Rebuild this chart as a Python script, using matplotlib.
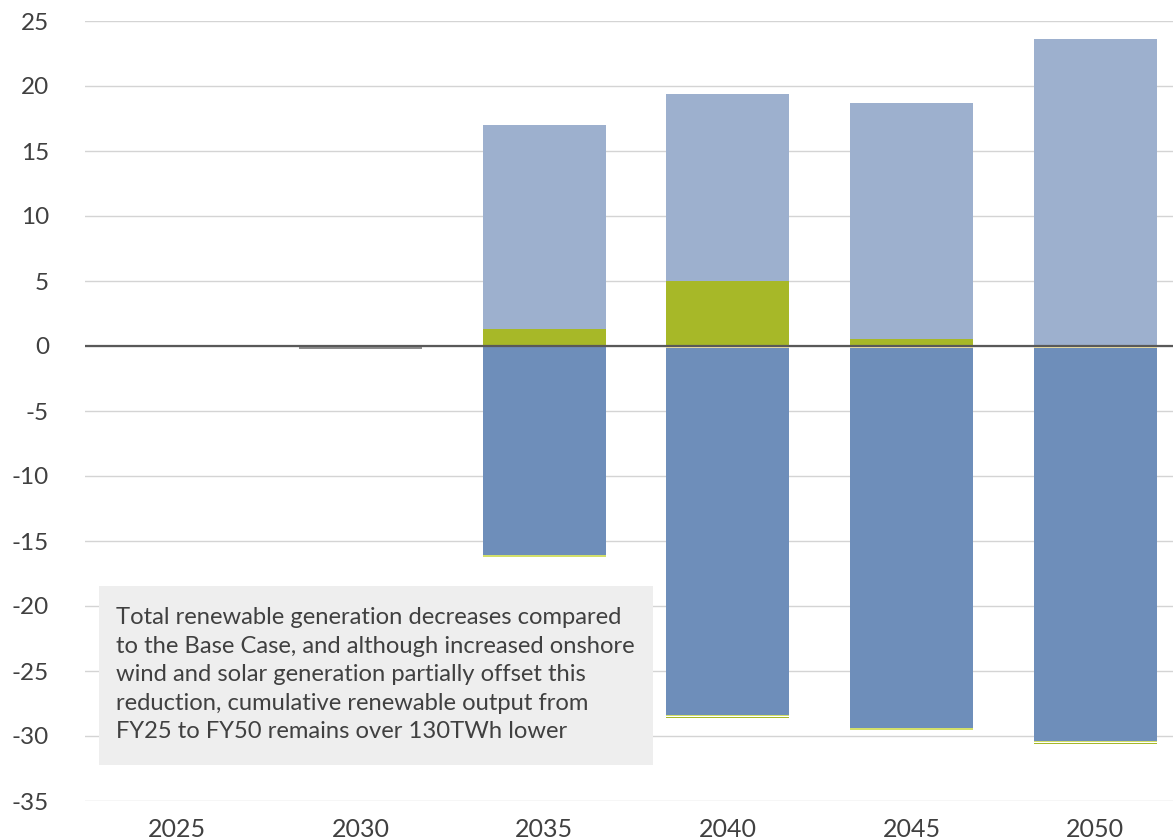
import numpy as np
import matplotlib
matplotlib.use("Agg")
import matplotlib.pyplot as plt
from matplotlib.patches import Rectangle

plt.rcParams['font.family'] = ['Lato', 'DejaVu Sans']

years = ['2025', '2030', '2035', '2040', '2045', '2050']

# Change in generation vs Base Case (TWh)
onshore_wind = [0.0, 0.0, 1.3, 5.0, 0.55, 0.05]
solar = [0.0, 0.0, 15.7, 14.4, 18.15, 23.55]
hydro = [0.0, 0.0, 0.0, -0.15, -0.15, -0.15]
offshore_wind = [0.0, 0.0, -16.1, -28.2, -29.2, -30.2]
bioenergy = [0.0, 0.0, -0.12, -0.15, -0.2, -0.15]
other_renewables = [0.0, 0.0, 0.0, -0.1, 0.0, -0.08]
other = [0.0, -0.2, 0.0, 0.0, 0.0, 0.0]

yticks = [25, 20, 15, 10, 5, 0, -5, -10, -15, -20, -25, -30, -35]

note = ("Total renewable generation decreases compared\n"
        "to the Base Case, and although increased onshore\n"
        "wind and solar generation partially offset this\n"
        "reduction, cumulative renewable output from\n"
        "FY25 to FY50 remains over 130TWh lower")

positive = [(onshore_wind, '#A7B828'), (solar, '#9DB0CE')]
negative = [(other, '#8C8C8C'), (hydro, '#F1E4A6'), (offshore_wind, '#6E8EBA'),
            (bioenergy, '#D3DF6A'), (other_renewables, '#A7B828')]

fig = plt.figure(figsize=(11.73, 8.39), dpi=100)
ax = fig.add_axes([85 / 1173, 1 - 801 / 839, (1187 - 85) / 1173, (801 - 21) / 839])

x = np.arange(len(years))
width = 0.67

pos_base = np.zeros(len(years))
for vals, col in positive:
    v = np.array(vals)
    ax.bar(x, v, width, bottom=pos_base, color=col, zorder=2, linewidth=0)
    pos_base += v

neg_base = np.zeros(len(years))
for vals, col in negative:
    v = np.array(vals)
    ax.bar(x, v, width, bottom=neg_base, color=col, zorder=2, linewidth=0)
    neg_base += v

ax.axhline(0, color='#595959', lw=1.6, zorder=4)

ax.set_xlim(-0.5, len(years) - 0.5)
ax.set_ylim(-35, 25)
ax.set_yticks(yticks)
ax.set_yticklabels([str(t) for t in yticks])
ax.set_xticks(x)
ax.set_xticklabels(years)
ax.yaxis.grid(True, color='#D4D4D4', lw=1.0, zorder=0)
ax.set_axisbelow(True)
for s in ax.spines.values():
    s.set_visible(False)
ax.tick_params(axis='both', length=0, labelsize=17.5, labelcolor='#404040')
ax.tick_params(axis='x', labelsize=18, pad=12)
ax.tick_params(axis='y', pad=26)

# Commentary box
ax.add_patch(Rectangle((-0.424, -32.23), 2.592 + 0.424, 32.23 - 18.46,
                       facecolor='#EEEEEE', edgecolor='none', zorder=3))
ax.text(-0.33, -20.1, note, fontsize=17.1, color='#404040', va='top', ha='left',
        linespacing=1.44, zorder=5)

fig.savefig('out.png', dpi=100)
